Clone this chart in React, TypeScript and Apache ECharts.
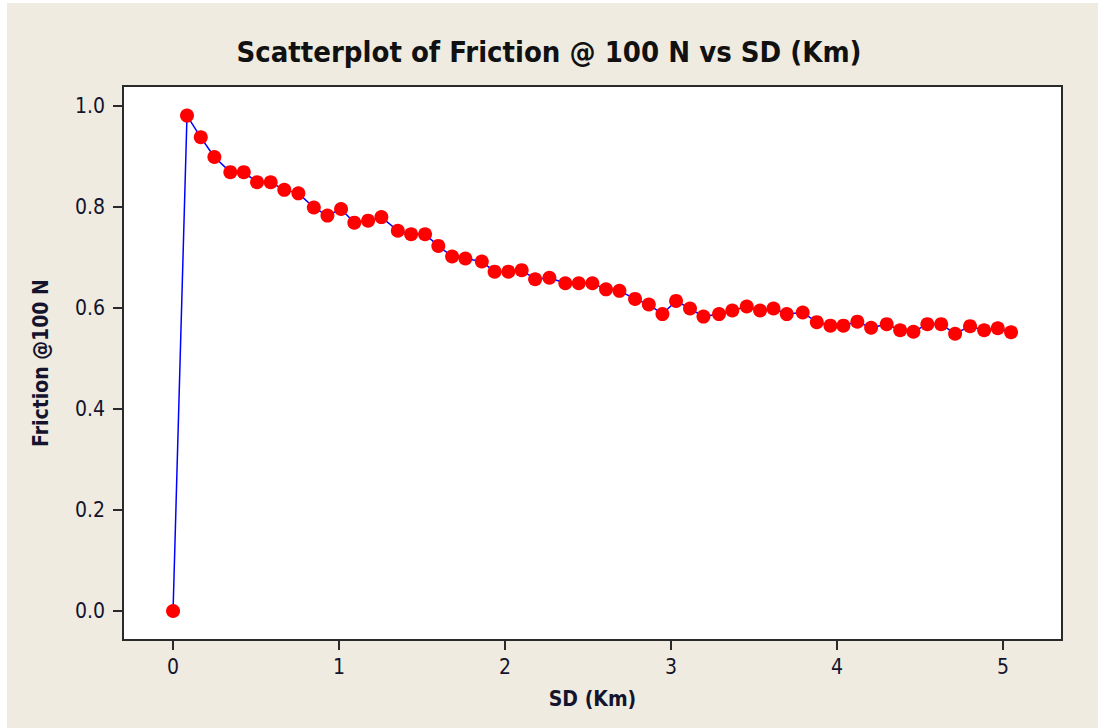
import React, { useEffect, useRef } from "react";
import * as echarts from "echarts";

const titleText = "Scatterplot of Friction @ 100 N vs SD (Km)";
const xName = "SD (Km)";
const yName = "Friction @100 N";

const sdKm = [
  0, 0.084, 0.167, 0.249, 0.345, 0.426, 0.506, 0.588, 0.670, 0.755, 0.848,
  0.930, 1.012, 1.092, 1.175, 1.255, 1.354, 1.434, 1.518, 1.598, 1.681,
  1.761, 1.860, 1.937, 2.020, 2.100, 2.181, 2.267, 2.363, 2.444, 2.526,
  2.608, 2.689, 2.783, 2.866, 2.948, 3.030, 3.114, 3.195, 3.289, 3.369,
  3.456, 3.536, 3.617, 3.697, 3.793, 3.878, 3.960, 4.038, 4.122, 4.205,
  4.299, 4.380, 4.460, 4.544, 4.627, 4.711, 4.801, 4.886, 4.968, 5.048,
];
const friction = [
  0.0, 0.981, 0.938, 0.899, 0.869, 0.869, 0.849, 0.849, 0.834, 0.827, 0.799,
  0.783, 0.796, 0.769, 0.773, 0.780, 0.753, 0.746, 0.746, 0.723, 0.702,
  0.698, 0.692, 0.672, 0.672, 0.675, 0.657, 0.660, 0.649, 0.649, 0.649,
  0.637, 0.634, 0.618, 0.607, 0.588, 0.614, 0.599, 0.583, 0.588, 0.595,
  0.603, 0.595, 0.599, 0.588, 0.591, 0.572, 0.565, 0.565, 0.573, 0.561,
  0.568, 0.556, 0.553, 0.568, 0.568, 0.549, 0.564, 0.556, 0.560, 0.552,
];
const xTicks = [0, 1, 2, 3, 4, 5];
const yTicks = [0, 0.2, 0.4, 0.6, 0.8, 1.0];

const FONT = "'DejaVu Sans Condensed', 'DejaVu Sans', sans-serif";
const TXT = "#14142e";

export default function App() {
  const ref = useRef<HTMLDivElement>(null);
  useEffect(() => {
    if (!ref.current) return;
    const chart = echarts.init(ref.current, null, { renderer: "svg" });
    const data = sdKm.map((x, i) => [x, friction[i]]);
    chart.setOption({
      animation: false,
      backgroundColor: "transparent",
      graphic: [
        {
          type: "rect",
          z: -10,
          shape: { x: 7, y: 3, width: 1091, height: 725 },
          style: { fill: "#EFEBE0" },
        },
      ],
      title: {
        text: titleText,
        left: "center",
        top: 32,
        textStyle: {
          fontFamily: FONT,
          fontWeight: "bold",
          fontSize: 29,
          color: "#111",
        },
      },
      grid: {
        left: 123,
        top: 86,
        right: 36,
        bottom: 88,
        show: true,
        backgroundColor: "#ffffff",
        borderColor: "#2a2a2a",
        borderWidth: 2,
      },
      xAxis: {
        type: "value",
        min: -0.3015,
        max: 5.355,
        name: xName,
        nameLocation: "middle",
        nameGap: 48,
        nameTextStyle: {
          fontFamily: FONT,
          fontWeight: "bold",
          fontSize: 21,
          color: TXT,
        },
        axisLine: { show: false, onZero: false },
        splitLine: { show: false },
        axisTick: {
          show: true,
          inside: false,
          length: 10,
          customValues: xTicks,
          lineStyle: { color: "#2a2a2a", width: 2 },
        },
        axisLabel: {
          customValues: xTicks,
          margin: 16,
          fontFamily: FONT,
          fontSize: 21,
          color: TXT,
          formatter: (v: number) => String(Math.round(v)),
        },
      },
      yAxis: {
        type: "value",
        min: -0.0574,
        max: 1.0396,
        name: yName,
        nameLocation: "middle",
        nameGap: 72,
        nameTextStyle: {
          fontFamily: FONT,
          fontWeight: "bold",
          fontSize: 21,
          color: TXT,
        },
        axisLine: { show: false, onZero: false },
        splitLine: { show: false },
        axisTick: {
          show: true,
          inside: false,
          length: 10,
          customValues: yTicks,
          lineStyle: { color: "#2a2a2a", width: 2 },
        },
        axisLabel: {
          customValues: yTicks,
          margin: 18,
          fontFamily: FONT,
          fontSize: 21,
          color: TXT,
          formatter: (v: number) => v.toFixed(1),
        },
      },
      series: [
        {
          type: "line",
          data,
          symbol: "circle",
          symbolSize: 14,
          showSymbol: true,
          itemStyle: { color: "#ff0000" },
          lineStyle: { color: "#0000ff", width: 1.5 },
        },
      ],
    });
    return () => chart.dispose();
  }, []);
  return (
    <div
      ref={ref}
      style={{
        position: "absolute",
        left: 0,
        top: 0,
        width: 1098,
        height: 728,
        background: "#ffffff",
      }}
    />
  );
}
